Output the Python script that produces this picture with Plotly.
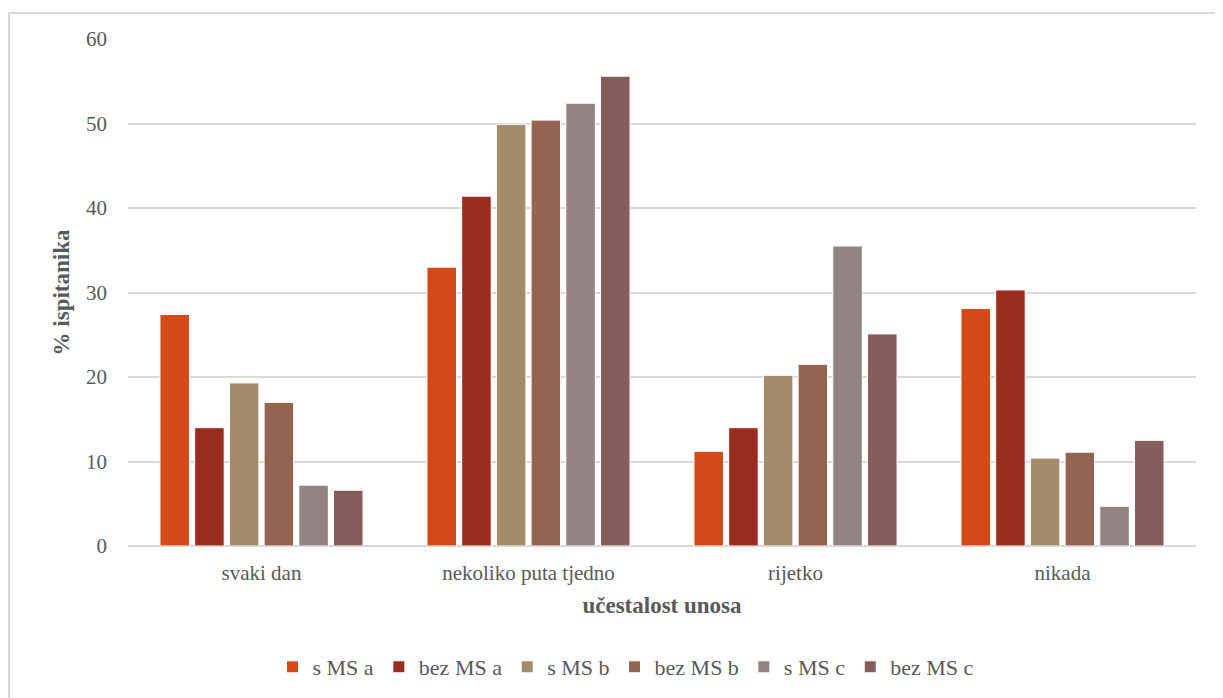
import plotly.graph_objects as go

categories = ["svaki dan", "nekoliko puta tjedno", "rijetko", "nikada"]
series_names = ["s MS a", "bez MS a", "s MS b", "bez MS b", "s MS c", "bez MS c"]
s_ms_a = [27.4, 33.0, 11.2, 28.1]
bez_ms_a = [14.0, 41.4, 14.0, 30.3]
s_ms_b = [19.3, 49.9, 20.2, 10.4]
bez_ms_b = [17.0, 50.4, 21.5, 11.1]
s_ms_c = [7.2, 52.4, 35.5, 4.7]
bez_ms_c = [6.6, 55.6, 25.1, 12.5]
values = [s_ms_a, bez_ms_a, s_ms_b, bez_ms_b, s_ms_c, bez_ms_c]
colors = ["#d14a17", "#9a2c1f", "#a38c69", "#956352", "#918483", "#855e5c"]

# page has an 8px body margin; figure coords = page coords - 8
W, H = 1215, 690
L, R, T, B = 120, 27, 31, 152
pw, ph = W - L - R, H - T - B

fig = go.Figure()
for name, vals, col in zip(series_names, values, colors):
    fig.add_trace(go.Bar(name=name, x=categories, y=vals,
                         marker=dict(color=col, line=dict(color="white", width=1))))

font = "Liberation Serif, Times New Roman, serif"
fig.update_layout(
    width=W, height=H,
    margin=dict(l=L, r=R, t=T, b=B, autoexpand=False),
    paper_bgcolor="white", plot_bgcolor="white",
    barmode="group", bargap=0.22, bargroupgap=0.15,
    font=dict(family=font, color="#595959", size=21),
    xaxis=dict(showgrid=False, showline=False, ticks="", tickfont=dict(size=21, color="#595959"),
               ticklabelstandoff=12,
               title=dict(text="<b>učestalost unosa</b>", font=dict(size=23, color="#595959"), standoff=12)),
    yaxis=dict(range=[0, 60], dtick=10, showgrid=True, gridcolor="#d9d9d9", gridwidth=1.5,
               zeroline=True, zerolinecolor="#d9d9d9", zerolinewidth=1.5, showline=False,
               tickfont=dict(size=21, color="#595959"), ticklabelstandoff=20,
               title=dict(text="<b>% ispitanika</b>", font=dict(size=23, color="#595959"), standoff=9)),
    legend=dict(orientation="h", x=(626 - 8 - L) / pw, xanchor="center",
                y=-(659 - (T + ph)) / ph, yanchor="middle",
                font=dict(size=22, color="#595959"), itemwidth=30, traceorder="normal"),
    shapes=[dict(type="rect", xref="paper", yref="paper",
                 x0=(1 - L) / pw, x1=1.2, y0=-0.5, y1=(T + ph - 5) / ph,
                 line=dict(color="#d9d9d9", width=2), fillcolor="rgba(0,0,0,0)", layer="below")],
)

fig.write_html("out.html")
